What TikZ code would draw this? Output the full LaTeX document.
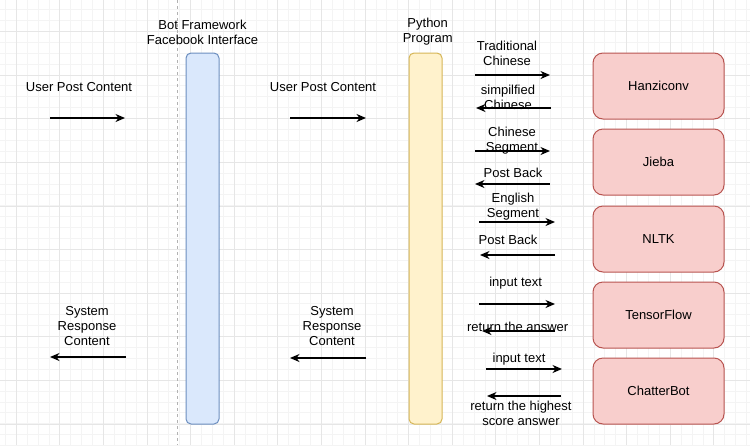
\documentclass[tikz,border=0pt]{standalone}
\usepackage{fontspec}
\setmainfont{Liberation Sans}
\usetikzlibrary{arrows.meta,positioning}

\definecolor{botfill}{HTML}{DAE8FC}
\definecolor{botline}{HTML}{6C8EBF}
\definecolor{pyfill}{HTML}{FFF2CC}
\definecolor{pyline}{HTML}{D6B656}
\definecolor{toolfill}{HTML}{F8CECC}
\definecolor{toolline}{HTML}{B85450}
\definecolor{minorgrid}{HTML}{F4F4F4}
\definecolor{majorgrid}{HTML}{E6E6E6}

\begin{document}
\begin{tikzpicture}[x=1pt,y=-1pt,every node/.style={font=\fontsize{13}{15}\selectfont,align=center},
  lane/.style={draw,rounded corners=5pt,line width=1pt,minimum width=33pt,minimum height=371pt},
  tool/.style={draw=toolline,fill=toolfill,rounded corners=10pt,line width=1pt,minimum width=131pt,minimum height=66pt},
  msg/.style={-{Stealth[length=9.5pt,width=8pt,inset=3pt]},line width=1.2pt}]
\useasboundingbox (0,0) rectangle (750,445);
\fill[white] (0,0) rectangle (750,445);
% grid
\foreach \i in {0,...,68} \draw[minorgrid,line width=.8pt] ({5.3+10.9*\i},0) -- ({5.3+10.9*\i},445);
\foreach \i in {0,...,40} \draw[minorgrid,line width=.8pt] (0,{9.5+10.9*\i}) -- (750,{9.5+10.9*\i});
\foreach \i in {0,...,17} \draw[majorgrid,line width=.8pt] ({16.2+43.6*\i},0) -- ({16.2+43.6*\i},445);
\foreach \i in {0,...,10} \draw[majorgrid,line width=.8pt] (0,{31.5+43.6*\i}) -- (750,{31.5+43.6*\i});
\draw[gray!60,dashed,line width=.8pt] (177,0) -- (177,445);

% lanes
\node[lane,draw=botline,fill=botfill] (bot) at (202.5,238.5) {};
\node (botlabel) at (202.5,32) {Bot Framework\\Facebook Interface};
\node[lane,draw=pyline,fill=pyfill] (python) at (425.5,238.5) {};
\node (pylabel) at (427.7,32) {Python\\Program};

% tools
\node[tool] (hanziconv) at (658.5,86) {Hanziconv};
\node[tool] (jieba) at (658.5,162) {Jieba};
\node[tool] (nltk) at (658.5,239) {NLTK};
\node[tool] (tensorflow) at (658.5,315) {TensorFlow};
\node[tool] (chatterbot) at (658.5,391) {ChatterBot};

% user side
\node (upc1) at (79,87) {User Post Content};
\coordinate (upc1-s) at (50,118); \coordinate (upc1-e) at (125,118);
\draw[msg] (upc1-s) -- (upc1-e);
\node (upc2) at (323,87) {User Post Content};
\coordinate (upc2-s) at (290,118); \coordinate (upc2-e) at (366,118);
\draw[msg] (upc2-s) -- (upc2-e);
\node (src1) at (87,326) {System\\Response\\Content};
\coordinate (src1-s) at (126,357); \coordinate (src1-e) at (50,357);
\draw[msg] (src1-s) -- (src1-e);
\node (src2) at (332,326) {System\\Response\\Content};
\coordinate (src2-s) at (366,358); \coordinate (src2-e) at (290,358);
\draw[msg] (src2-s) -- (src2-e);

% python <-> tools
\node (trad) at (507,53.5) {Traditional\\Chinese};
\coordinate (trad-s) at (475,75); \coordinate (trad-e) at (550,75);
\draw[msg] (trad-s) -- (trad-e);
\node (simp) at (508,97.5) {simpilfied\\Chinese};
\coordinate (simp-s) at (551,108); \coordinate (simp-e) at (476,108);
\draw[msg] (simp-s) -- (simp-e);
\node (chseg) at (512,140.5) {Chinese\\Segment};
\coordinate (chseg-s) at (475,151); \coordinate (chseg-e) at (550,151);
\draw[msg] (chseg-s) -- (chseg-e);
\node (back1) at (513,173) {Post Back};
\coordinate (back1-s) at (550,184); \coordinate (back1-e) at (475,184);
\draw[msg] (back1-s) -- (back1-e);
\node (enseg) at (513,206.5) {English\\Segment};
\coordinate (enseg-s) at (479,222); \coordinate (enseg-e) at (555,222);
\draw[msg] (enseg-s) -- (enseg-e);
\node (back2) at (508,240) {Post Back};
\coordinate (back2-s) at (555,255); \coordinate (back2-e) at (480,255);
\draw[msg] (back2-s) -- (back2-e);
\node (input1) at (515.7,283) {input text};
\coordinate (input1-s) at (479,304); \coordinate (input1-e) at (555,304);
\draw[msg] (input1-s) -- (input1-e);
\node (answer1) at (517.7,327) {return the answer};
\coordinate (answer1-s) at (555,331); \coordinate (answer1-e) at (482,331);
\draw[msg] (answer1-s) -- (answer1-e);
\node (input2) at (519,359) {input text};
\coordinate (input2-s) at (486,369); \coordinate (input2-e) at (562,369);
\draw[msg] (input2-s) -- (input2-e);
\node (answer2) at (521,413.5) {return the highest\\score answer};
\coordinate (answer2-s) at (561,396); \coordinate (answer2-e) at (487,396);
\draw[msg] (answer2-s) -- (answer2-e);
\end{tikzpicture}
\end{document}
